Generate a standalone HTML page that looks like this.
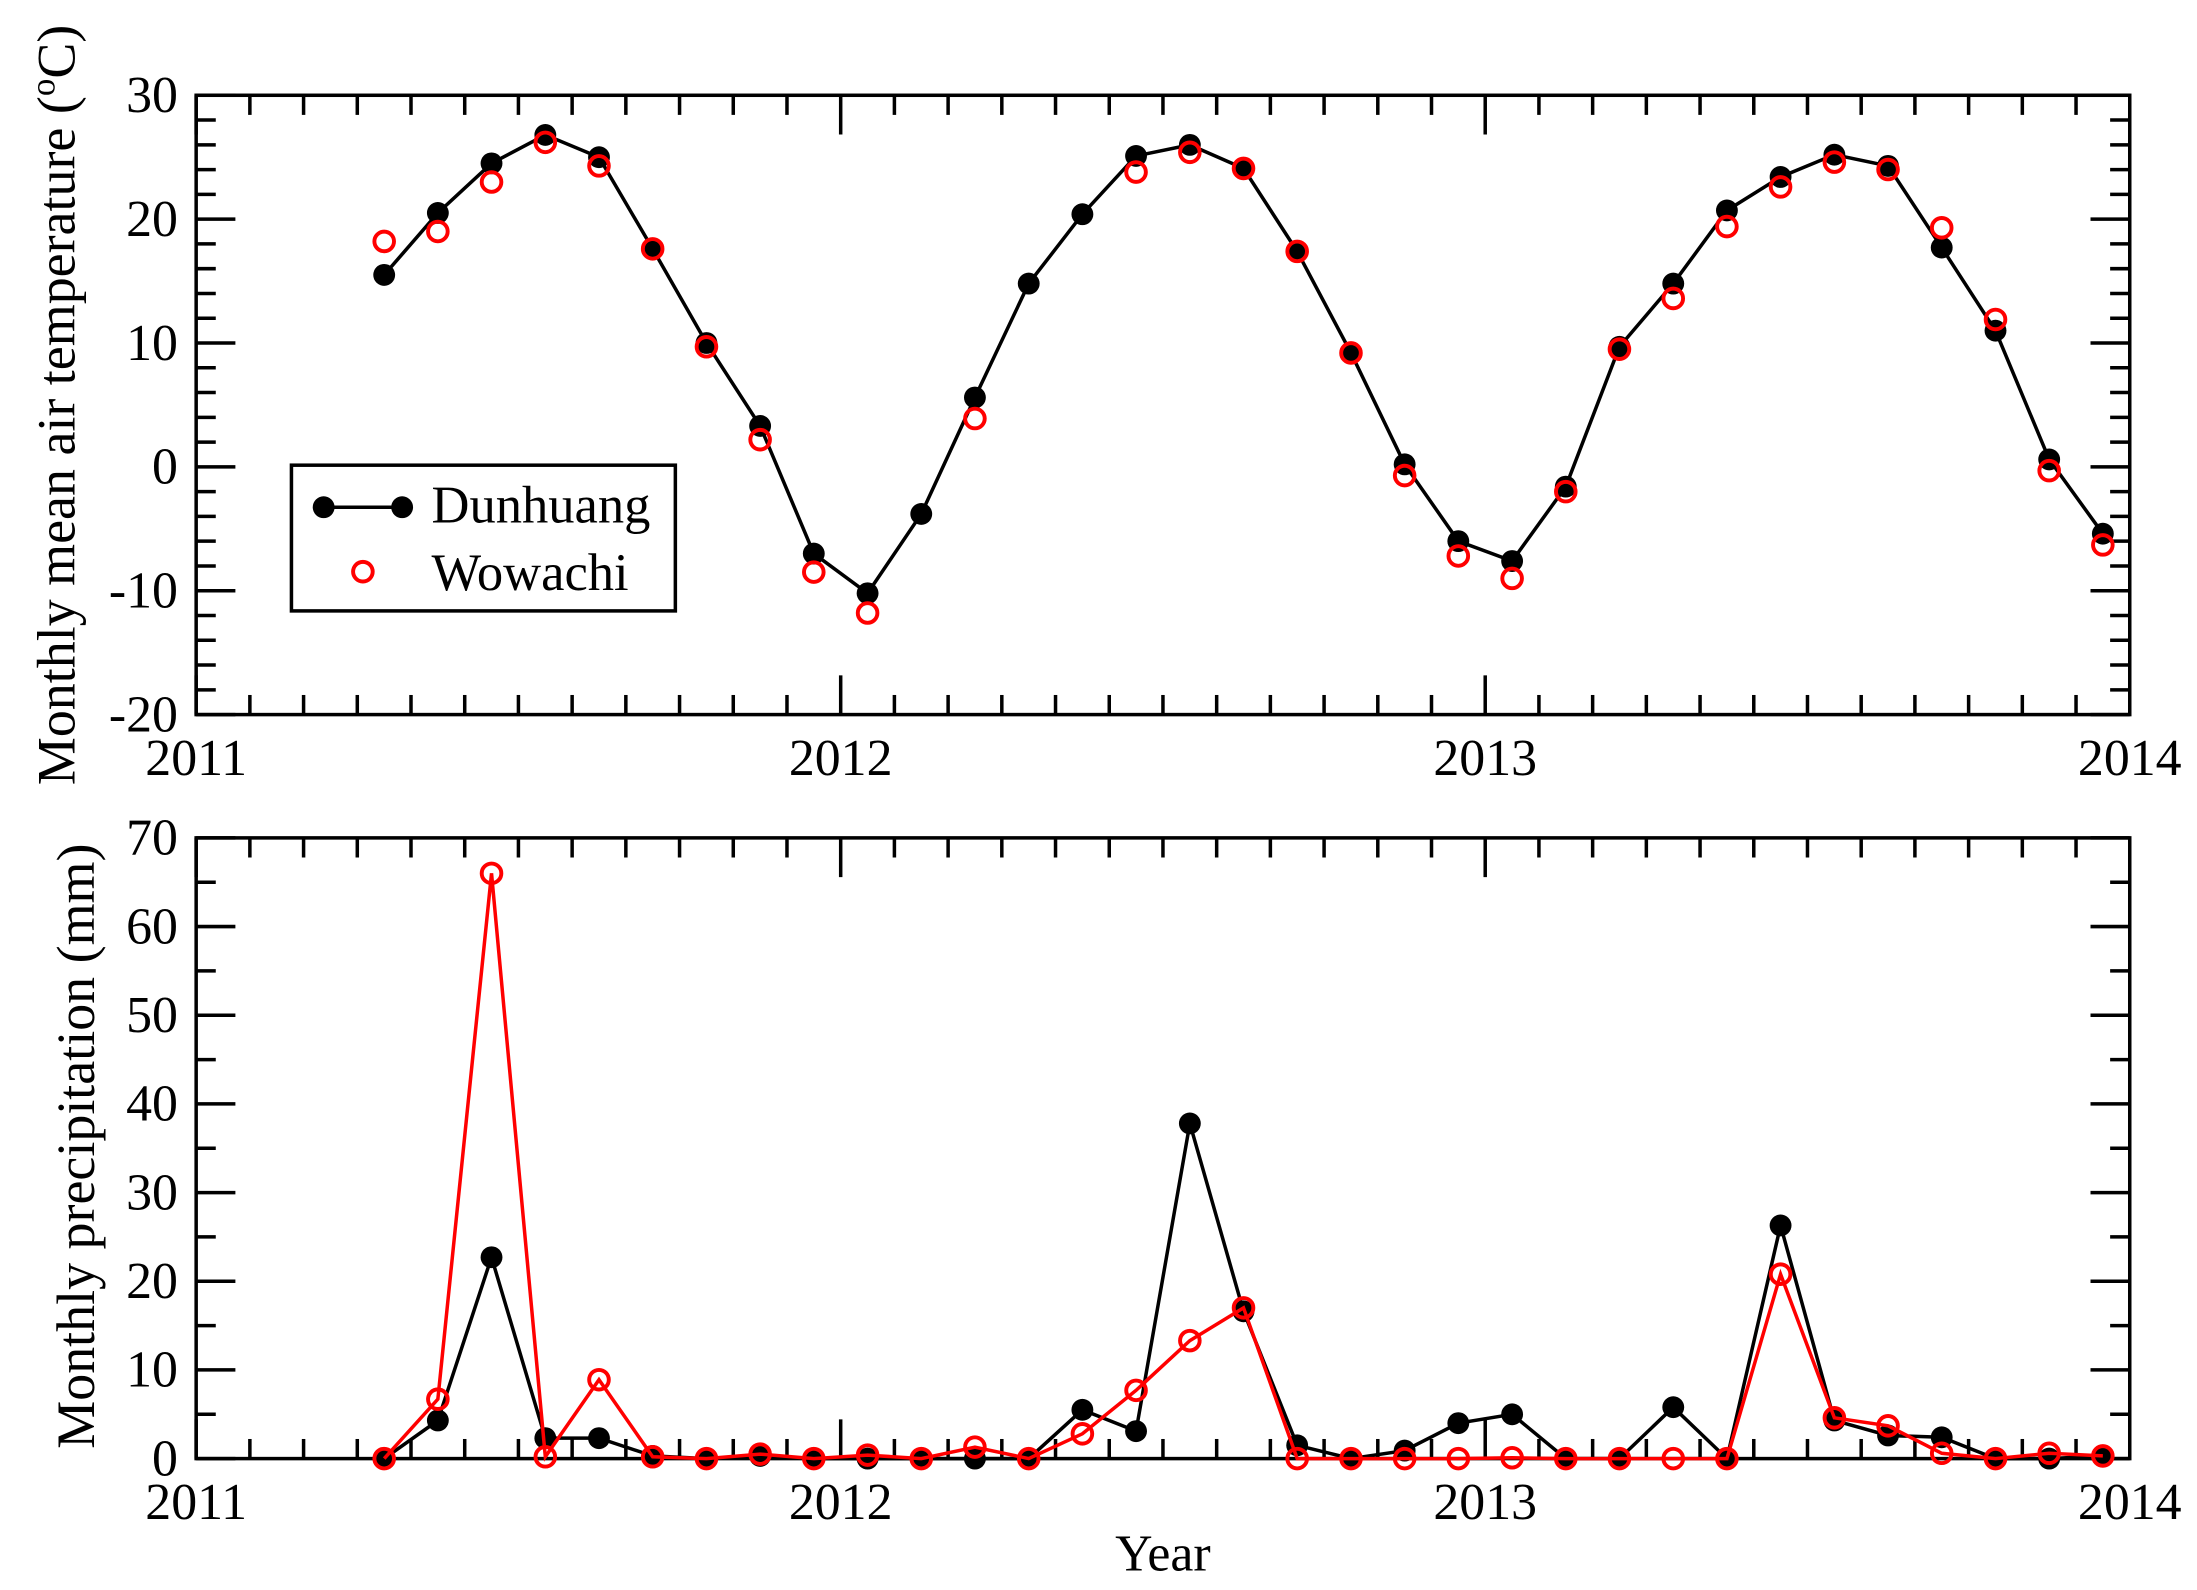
<!DOCTYPE html>
<html><head><meta charset="utf-8"><style>html,body{margin:0;padding:0;background:#fff}svg{display:block}text{font-family:"Liberation Serif",serif;fill:#000}</style></head>
<body>
<svg id="s" xmlns="http://www.w3.org/2000/svg" width="2197" height="1590" viewBox="0 0 1568 1134.78"></svg>
<script>
var s=document.getElementById('s'),h='';
var X0=140,X1=1520,FS=37;
function xm(i){return X0+(3.5+i)*(X1-X0)/36;}
function ax(y0,y1,vmin,vmax,major,minor){
 var yv=function(v){return y1-(v-vmin)/(vmax-vmin)*(y1-y0);};
 h+='<rect x="'+X0+'" y="'+y0+'" width="'+(X1-X0)+'" height="'+(y1-y0)+'" fill="none" stroke="#000" stroke-width="2.5"/>';
 for(var m=0;m<=36;m++){var x=X0+m*(X1-X0)/36,L=(m%12==0)?28:14;
  h+='<line x1="'+x+'" y1="'+y1+'" x2="'+x+'" y2="'+(y1-L)+'" stroke="#000" stroke-width="2.5"/>';
  h+='<line x1="'+x+'" y1="'+y0+'" x2="'+x+'" y2="'+(y0+L)+'" stroke="#000" stroke-width="2.5"/>';
  if(m%12==0)h+='<text x="'+x+'" y="'+(y1+43)+'" font-size="'+FS+'" text-anchor="middle">'+(2011+m/12)+'</text>';}
 for(var v=vmin;v<=vmax+1e-9;v+=minor){var y=yv(v),isM=Math.abs(v/major-Math.round(v/major))<1e-6,L=isM?28:14;
  h+='<line x1="'+X0+'" y1="'+y+'" x2="'+(X0+L)+'" y2="'+y+'" stroke="#000" stroke-width="2.5"/>';
  h+='<line x1="'+X1+'" y1="'+y+'" x2="'+(X1-L)+'" y2="'+y+'" stroke="#000" stroke-width="2.5"/>';
  if(isM)h+='<text x="'+(X0-13)+'" y="'+(y+12)+'" font-size="'+FS+'" text-anchor="end">'+Math.round(v)+'</text>';}
 return yv;}
function series(d,yv,color,filled,line){
 var p=[];d.forEach(function(v,i){if(v!==null)p.push(xm(i).toFixed(1)+','+yv(v).toFixed(1));});
 if(line)h+='<polyline points="'+p.join(' ')+'" fill="none" stroke="'+color+'" stroke-width="2.5"/>';
 p.forEach(function(q){var c=q.split(',');
  h+=filled?'<circle cx="'+c[0]+'" cy="'+c[1]+'" r="7.8" fill="#000"/>':'<circle cx="'+c[0]+'" cy="'+c[1]+'" r="7" fill="none" stroke="#f00" stroke-width="2.8"/>';});}
var tD=[15.5,20.5,24.5,26.8,25,17.6,10,3.3,-7,-10.2,-3.8,5.6,14.8,20.4,25.1,26,24.1,17.4,9.2,0.2,-6,-7.6,-1.6,9.7,14.8,20.7,23.4,25.2,24.3,17.7,11,0.6,-5.4];
var tW=[18.2,19,23,26.2,24.3,17.6,9.7,2.2,-8.5,-11.8,null,3.9,null,null,23.8,25.4,24.1,17.4,9.2,-0.7,-7.2,-9,-2,9.5,13.6,19.4,22.6,24.6,24,19.3,11.9,-0.3,-6.3];
var pD=[0,4.3,22.7,2.3,2.3,0.3,0,0.3,0,0,0,0,0,5.5,3.1,37.8,16.6,1.5,0,0.9,4,5,0,0,5.8,0,26.3,4.3,2.6,2.4,0,0,0.3];
var pW=[0,6.7,66,0.2,8.9,0.2,0,0.5,0,0.4,0,1.3,0,2.8,7.7,13.3,17,0,0,0,0,0.1,0,0,0,0,20.8,4.6,3.7,0.6,0,0.6,0.3];
var y1=ax(68,510,-20,30,10,2);
series(tD,y1,'#000',true,true);series(tW,y1,'#f00',false,false);
var y2=ax(598,1041,0,70,10,5);
series(pD,y2,'#000',true,true);series(pW,y2,'#f00',false,true);
h+='<rect x="208" y="332" width="274" height="104" fill="#fff" stroke="#000" stroke-width="2.5"/>';
h+='<line x1="231" y1="362" x2="287" y2="362" stroke="#000" stroke-width="2.5"/><circle cx="231" cy="362" r="7.8"/><circle cx="287" cy="362" r="7.8"/>';
h+='<text x="308" y="373" font-size="37.5">Dunhuang</text>';
h+='<circle cx="259" cy="408" r="7" fill="none" stroke="#f00" stroke-width="2.8"/>';
h+='<text x="308" y="421" font-size="37.5">Wowachi</text>';
h+='<text transform="translate(53,289) rotate(-90)" font-size="38.5" text-anchor="middle">Monthly mean air temperature (<tspan font-size="25" dy="-14">o</tspan><tspan dy="14">C)</tspan></text>';
h+='<text transform="translate(67,818) rotate(-90)" font-size="38.5" text-anchor="middle">Monthly precipitation (mm)</text>';
h+='<text x="830" y="1121" font-size="37" text-anchor="middle">Year</text>';
s.innerHTML=h;
</script>
</body></html>
